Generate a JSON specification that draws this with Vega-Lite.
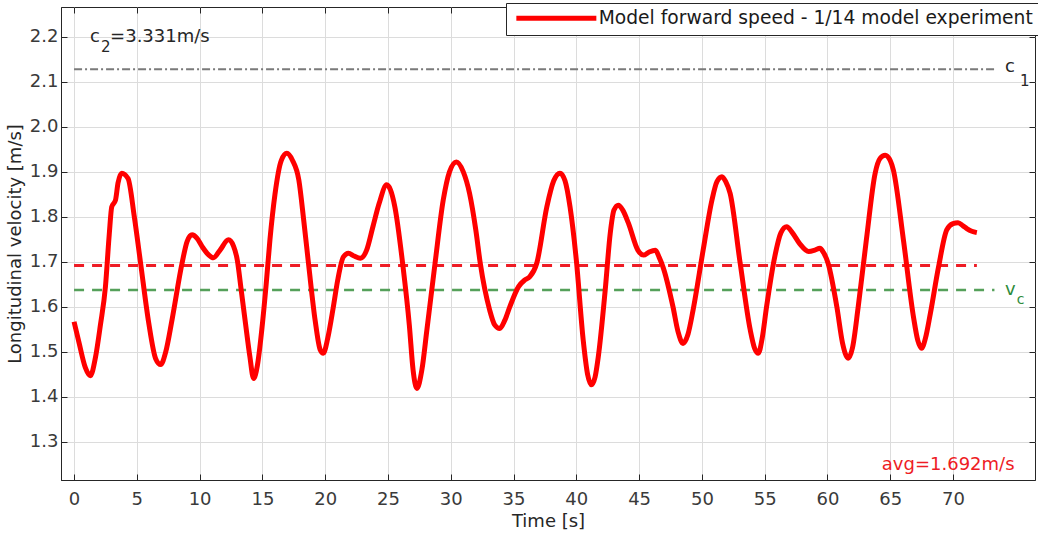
{
  "$schema": "https://vega.github.io/schema/vega-lite/v6.json",
  "width": 974,
  "height": 473,
  "autosize": {"type": "none"},
  "padding": {"left": 61, "top": 7, "right": 3, "bottom": 55},
  "background": "white",
  "config": {
    "font": "DejaVu Sans",
    "view": {"stroke": "#262626", "strokeWidth": 1},
    "axis": {
      "labelFont": "DejaVu Sans",
      "labelFontSize": 18,
      "labelColor": "#3a3a3a",
      "titleFont": "DejaVu Sans",
      "titleFontSize": 18,
      "titleFontWeight": "normal",
      "titleColor": "#262626",
      "gridColor": "#dcdcdc",
      "gridWidth": 1,
      "domainColor": "#262626",
      "tickColor": "#262626",
      "tickSize": -6
    }
  },
  "resolve": {"axis": {"x": "independent", "y": "independent"}},
  "datasets": {
    "speed": [
      {"t": 0.0, "v": 1.567}, {"t": 0.4, "v": 1.52}, {"t": 0.9, "v": 1.465}, {"t": 1.3, "v": 1.447},
      {"t": 1.7, "v": 1.487}, {"t": 2.1, "v": 1.56}, {"t": 2.5, "v": 1.645}, {"t": 2.8, "v": 1.76},
      {"t": 3.0, "v": 1.822}, {"t": 3.3, "v": 1.837}, {"t": 3.5, "v": 1.875}, {"t": 3.8, "v": 1.897},
      {"t": 4.3, "v": 1.885}, {"t": 4.8, "v": 1.80}, {"t": 5.3, "v": 1.697}, {"t": 5.95, "v": 1.564},
      {"t": 6.5, "v": 1.485}, {"t": 6.9, "v": 1.472}, {"t": 7.3, "v": 1.50}, {"t": 7.8, "v": 1.571},
      {"t": 8.6, "v": 1.697}, {"t": 9.0, "v": 1.745}, {"t": 9.4, "v": 1.760}, {"t": 9.8, "v": 1.752},
      {"t": 10.2, "v": 1.734}, {"t": 10.7, "v": 1.716}, {"t": 11.1, "v": 1.709}, {"t": 11.6, "v": 1.725},
      {"t": 12.3, "v": 1.749}, {"t": 12.7, "v": 1.735}, {"t": 13.0, "v": 1.704}, {"t": 13.3, "v": 1.64},
      {"t": 13.65, "v": 1.564}, {"t": 14.0, "v": 1.49}, {"t": 14.3, "v": 1.441}, {"t": 14.6, "v": 1.47},
      {"t": 14.95, "v": 1.549}, {"t": 15.3, "v": 1.65}, {"t": 15.6, "v": 1.749}, {"t": 16.0, "v": 1.85},
      {"t": 16.5, "v": 1.925}, {"t": 16.95, "v": 1.941}, {"t": 17.4, "v": 1.925}, {"t": 17.9, "v": 1.882},
      {"t": 18.3, "v": 1.79}, {"t": 18.7, "v": 1.689}, {"t": 19.2, "v": 1.57}, {"t": 19.6, "v": 1.505},
      {"t": 19.85, "v": 1.497}, {"t": 20.2, "v": 1.53}, {"t": 20.65, "v": 1.60}, {"t": 21.0, "v": 1.66},
      {"t": 21.45, "v": 1.711}, {"t": 21.85, "v": 1.719}, {"t": 22.3, "v": 1.713}, {"t": 22.8, "v": 1.708},
      {"t": 23.3, "v": 1.726}, {"t": 23.8, "v": 1.778}, {"t": 24.3, "v": 1.83}, {"t": 24.9, "v": 1.871},
      {"t": 25.2, "v": 1.86}, {"t": 25.55, "v": 1.822}, {"t": 26.2, "v": 1.689}, {"t": 26.7, "v": 1.56},
      {"t": 27.0, "v": 1.46}, {"t": 27.3, "v": 1.419}, {"t": 27.7, "v": 1.46}, {"t": 28.1, "v": 1.549},
      {"t": 28.75, "v": 1.697}, {"t": 29.4, "v": 1.837}, {"t": 29.9, "v": 1.9}, {"t": 30.45, "v": 1.922},
      {"t": 31.0, "v": 1.9}, {"t": 31.5, "v": 1.852}, {"t": 32.0, "v": 1.77}, {"t": 32.35, "v": 1.697},
      {"t": 33.1, "v": 1.593}, {"t": 33.5, "v": 1.56}, {"t": 33.9, "v": 1.552}, {"t": 34.3, "v": 1.57},
      {"t": 34.7, "v": 1.60}, {"t": 35.4, "v": 1.645}, {"t": 35.9, "v": 1.66}, {"t": 36.3, "v": 1.667},
      {"t": 36.85, "v": 1.697}, {"t": 37.65, "v": 1.822}, {"t": 38.2, "v": 1.88}, {"t": 38.7, "v": 1.897},
      {"t": 39.1, "v": 1.88}, {"t": 39.5, "v": 1.822}, {"t": 40.0, "v": 1.704}, {"t": 40.55, "v": 1.526},
      {"t": 40.9, "v": 1.45}, {"t": 41.2, "v": 1.427}, {"t": 41.5, "v": 1.445}, {"t": 41.75, "v": 1.489},
      {"t": 42.3, "v": 1.637}, {"t": 42.7, "v": 1.763}, {"t": 43.0, "v": 1.815}, {"t": 43.35, "v": 1.826},
      {"t": 43.7, "v": 1.815}, {"t": 44.15, "v": 1.786}, {"t": 44.9, "v": 1.726}, {"t": 45.35, "v": 1.715},
      {"t": 45.8, "v": 1.722}, {"t": 46.3, "v": 1.726}, {"t": 46.6, "v": 1.71}, {"t": 46.9, "v": 1.689},
      {"t": 47.7, "v": 1.60}, {"t": 48.1, "v": 1.545}, {"t": 48.5, "v": 1.519}, {"t": 48.9, "v": 1.54},
      {"t": 49.3, "v": 1.593}, {"t": 50.1, "v": 1.726}, {"t": 50.8, "v": 1.837}, {"t": 51.2, "v": 1.878},
      {"t": 51.6, "v": 1.889}, {"t": 51.9, "v": 1.878}, {"t": 52.25, "v": 1.852}, {"t": 53.05, "v": 1.697},
      {"t": 53.85, "v": 1.549}, {"t": 54.2, "v": 1.508}, {"t": 54.5, "v": 1.497}, {"t": 54.8, "v": 1.53},
      {"t": 55.15, "v": 1.60}, {"t": 55.8, "v": 1.711}, {"t": 56.3, "v": 1.765}, {"t": 56.75, "v": 1.778},
      {"t": 57.2, "v": 1.765}, {"t": 57.8, "v": 1.74}, {"t": 58.5, "v": 1.723}, {"t": 59.0, "v": 1.726},
      {"t": 59.4, "v": 1.73}, {"t": 59.7, "v": 1.72}, {"t": 60.05, "v": 1.697}, {"t": 60.75, "v": 1.60},
      {"t": 61.2, "v": 1.52}, {"t": 61.65, "v": 1.486}, {"t": 62.0, "v": 1.51}, {"t": 62.45, "v": 1.60},
      {"t": 63.1, "v": 1.749}, {"t": 63.8, "v": 1.897}, {"t": 64.2, "v": 1.93}, {"t": 64.6, "v": 1.937},
      {"t": 65.0, "v": 1.925}, {"t": 65.25, "v": 1.904}, {"t": 66.05, "v": 1.749}, {"t": 66.85, "v": 1.578},
      {"t": 67.2, "v": 1.525}, {"t": 67.5, "v": 1.508}, {"t": 67.8, "v": 1.53}, {"t": 68.2, "v": 1.586},
      {"t": 68.85, "v": 1.689}, {"t": 69.5, "v": 1.771}, {"t": 70.0, "v": 1.785}, {"t": 70.4, "v": 1.787},
      {"t": 70.8, "v": 1.78}, {"t": 71.1, "v": 1.774}, {"t": 71.5, "v": 1.768}, {"t": 71.9, "v": 1.765}
    ],
    "refs": [
      {"name": "c1", "t0": 0, "t1": 73.3, "v": 2.128},
      {"name": "avg", "t0": 0, "t1": 71.9, "v": 1.692},
      {"name": "vc", "t0": 0, "t1": 73.3, "v": 1.6375}
    ],
    "notes": [
      {"kind": "main", "t": 1.27, "v": 2.1889, "label": "c"},
      {"kind": "sub", "t": 2.15, "v": 2.1667, "label": "2"},
      {"kind": "main", "t": 2.87, "v": 2.1889, "label": "=3.331m/s"},
      {"kind": "main", "t": 74.14, "v": 2.1216, "label": "c"},
      {"kind": "sub", "t": 75.34, "v": 2.0905, "label": "1"},
      {"kind": "green", "t": 74.14, "v": 1.6264, "label": "v"},
      {"kind": "greensub", "t": 75.07, "v": 1.6064, "label": "c"},
      {"kind": "red", "t": 74.9, "v": 1.238, "label": "avg=1.692m/s"}
    ]
  },
  "layer": [
    {
      "data": {"name": "refs"},
      "transform": [{"filter": "datum.name === 'c1'"}],
      "mark": {"type": "rule", "color": "#7a7a7a", "strokeWidth": 2, "strokeDash": [8, 3, 2, 3]},
      "encoding": {
        "x": {"field": "t0", "type": "quantitative", "scale": {"domain": [-1.04, 76.53], "nice": false, "zero": false},
          "axis": {"values": [0, 5, 10, 15, 20, 25, 30, 35, 40, 45, 50, 55, 60, 65, 70], "title": "Time [s]", "grid": true, "labelPadding": 16, "titlePadding": 4}},
        "x2": {"field": "t1"},
        "y": {"field": "v", "type": "quantitative", "scale": {"domain": [1.2156, 2.266], "nice": false, "zero": false},
          "axis": {"values": [1.3, 1.4, 1.5, 1.6, 1.7, 1.8, 1.9, 2.0, 2.1, 2.2], "format": ".1f", "title": "Longitudinal velocity [m/s]", "grid": true, "labelPadding": 9, "titlePadding": 5}}
      }
    },
    {
      "data": {"name": "refs"},
      "transform": [{"filter": "datum.name === 'vc'"}],
      "mark": {"type": "rule", "color": "#55a05a", "strokeWidth": 2.5, "strokeDash": [10, 8]},
      "encoding": {
        "x": {"field": "t0", "type": "quantitative",
          "axis": {"orient": "top", "values": [0, 5, 10, 15, 20, 25, 30, 35, 40, 45, 50, 55, 60, 65, 70], "labels": false, "title": null, "grid": false, "domain": false}},
        "x2": {"field": "t1"},
        "y": {"field": "v", "type": "quantitative",
          "axis": {"orient": "right", "values": [1.3, 1.4, 1.5, 1.6, 1.7, 1.8, 1.9, 2.0, 2.1, 2.2], "labels": false, "title": null, "grid": false, "domain": false}}
      }
    },
    {
      "data": {"name": "refs"},
      "transform": [{"filter": "datum.name === 'avg'"}],
      "mark": {"type": "rule", "color": "#ee1c25", "strokeWidth": 3, "strokeDash": [10, 8]},
      "encoding": {
        "x": {"field": "t0", "type": "quantitative", "axis": null},
        "x2": {"field": "t1"},
        "y": {"field": "v", "type": "quantitative", "axis": null}
      }
    },
    {
      "data": {"name": "speed"},
      "transform": [{"calculate": "'Model forward speed - 1/14 model experiment'", "as": "series"}],
      "mark": {"type": "line", "strokeWidth": 5, "interpolate": "monotone"},
      "encoding": {
        "x": {"field": "t", "type": "quantitative", "axis": null},
        "y": {"field": "v", "type": "quantitative", "axis": null},
        "color": {"field": "series", "type": "nominal", "scale": {"range": ["#ff0000"]},
          "legend": {"title": null, "orient": "none", "legendX": 445, "legendY": -4, "symbolType": "M-1,0L15,0", "symbolSize": 100, "symbolStrokeWidth": 5, "symbolFillColor": "#ff0000", "labelFont": "DejaVu Sans", "labelFontSize": 18.7, "labelColor": "#1a1a1a", "labelOffset": 68, "labelLimit": 600, "strokeColor": "#262626", "fillColor": "white", "padding": 6}}
      }
    },
    {
      "data": {"name": "notes"},
      "transform": [{"filter": "datum.kind === 'main'"}],
      "mark": {"type": "text", "align": "left", "baseline": "alphabetic", "font": "DejaVu Sans", "fontSize": 18, "color": "#262626"},
      "encoding": {"x": {"field": "t", "type": "quantitative", "axis": null}, "y": {"field": "v", "type": "quantitative", "axis": null}, "text": {"field": "label"}}
    },
    {
      "data": {"name": "notes"},
      "transform": [{"filter": "datum.kind === 'sub'"}],
      "mark": {"type": "text", "align": "left", "baseline": "alphabetic", "font": "DejaVu Sans", "fontSize": 15, "color": "#262626"},
      "encoding": {"x": {"field": "t", "type": "quantitative", "axis": null}, "y": {"field": "v", "type": "quantitative", "axis": null}, "text": {"field": "label"}}
    },
    {
      "data": {"name": "notes"},
      "transform": [{"filter": "datum.kind === 'green'"}],
      "mark": {"type": "text", "align": "left", "baseline": "alphabetic", "font": "DejaVu Sans", "fontSize": 18, "color": "#2e8b3a"},
      "encoding": {"x": {"field": "t", "type": "quantitative", "axis": null}, "y": {"field": "v", "type": "quantitative", "axis": null}, "text": {"field": "label"}}
    },
    {
      "data": {"name": "notes"},
      "transform": [{"filter": "datum.kind === 'greensub'"}],
      "mark": {"type": "text", "align": "left", "baseline": "alphabetic", "font": "DejaVu Sans", "fontSize": 14, "color": "#2e8b3a"},
      "encoding": {"x": {"field": "t", "type": "quantitative", "axis": null}, "y": {"field": "v", "type": "quantitative", "axis": null}, "text": {"field": "label"}}
    },
    {
      "data": {"name": "notes"},
      "transform": [{"filter": "datum.kind === 'red'"}],
      "mark": {"type": "text", "align": "right", "baseline": "alphabetic", "font": "DejaVu Sans", "fontSize": 18, "color": "#ee1c25"},
      "encoding": {"x": {"field": "t", "type": "quantitative", "axis": null}, "y": {"field": "v", "type": "quantitative", "axis": null}, "text": {"field": "label"}}
    }
  ]
}
